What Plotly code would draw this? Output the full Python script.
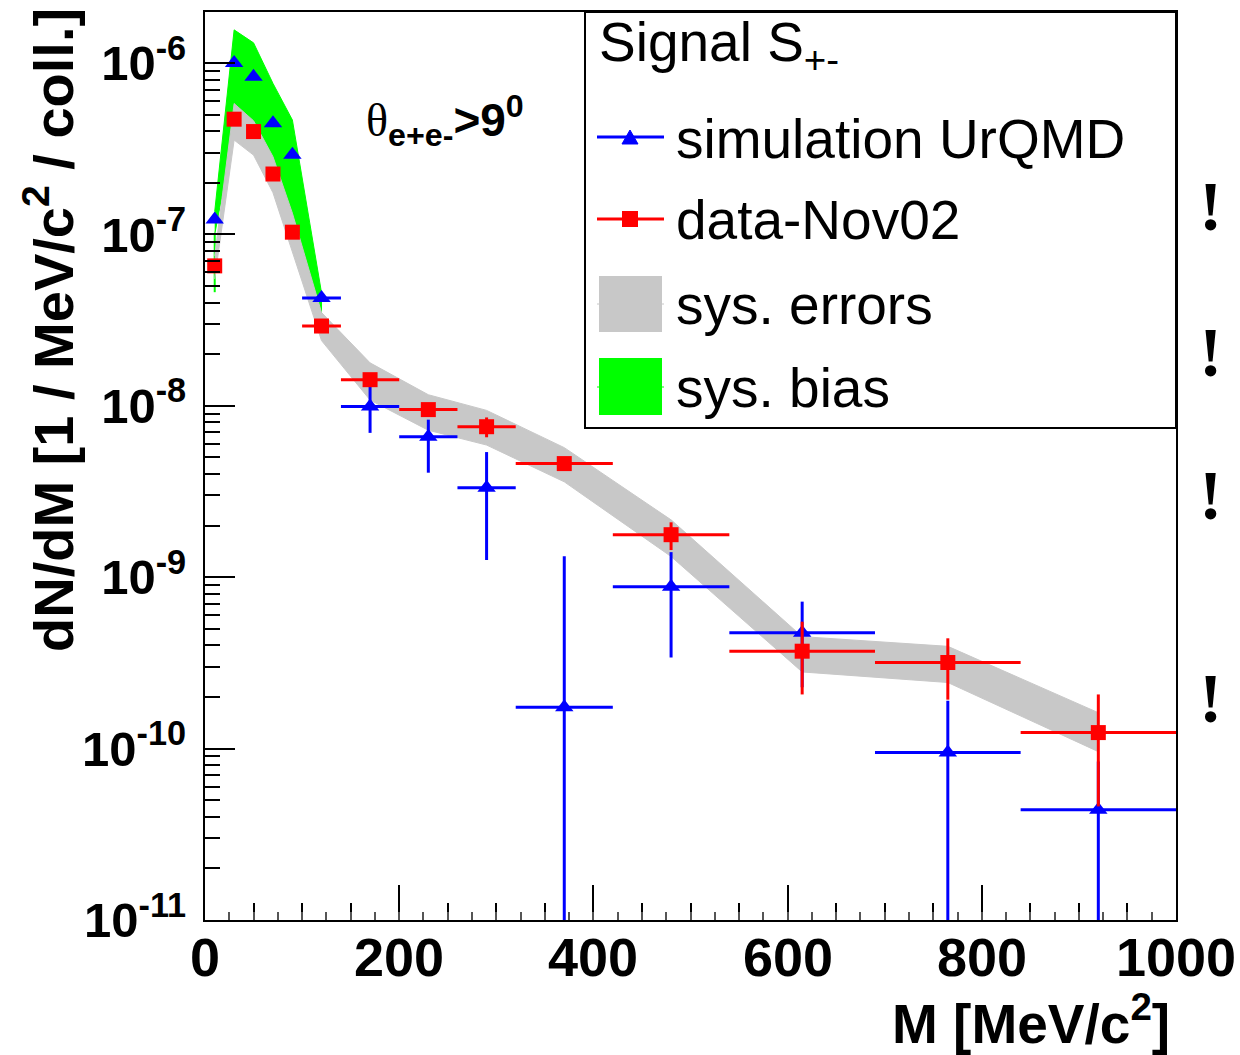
import plotly.graph_objects as go

# ---------------- data ----------------
mass = [10, 30, 50, 70, 90, 120, 170, 230, 290, 370, 480, 615, 765, 920]
mass_halfwidth = [0, 0, 0, 0, 0, 20, 30, 30, 30, 50, 60, 75, 75, 80]

sim_y = [1.22e-7, 1.0e-6, 8.3e-7, 4.45e-7, 2.91e-7, 4.25e-8, 9.9e-9, 6.6e-9,
         3.33e-9, 1.74e-10, 8.8e-10, 4.74e-10, 9.5e-11, 4.4e-11]
sim_err_up = [0, 0, 0, 0, 0, 0, 3.1e-9, 1.7e-9, 2.04e-9, 1.15e-9, 5.2e-10,
              2.46e-10, 9.5e-11, 4.0e-11]
sim_err_down = [0, 0, 0, 0, 0, 0, 2.95e-9, 2.53e-9, 2.07e-9, 1.74e-10, 5.4e-10,
                2.46e-10, 9.5e-11, 4.4e-11]

data_y = [6.55e-8, 4.7e-7, 3.98e-7, 2.25e-7, 1.03e-7, 2.92e-8, 1.42e-8, 9.5e-9,
          7.55e-9, 4.6e-9, 1.77e-9, 3.7e-10, 3.18e-10, 1.24e-10]
data_err_up = [0, 0, 0, 0, 0, 0, 1.0e-9, 7e-10, 1.0e-9, 4e-10, 3.2e-10,
               1.8e-10, 1.22e-10, 8.3e-11]
data_err_down = [0, 0, 0, 0, 0, 0, 1.0e-9, 7e-10, 1.0e-9, 4e-10, 3.3e-10,
                 1.63e-10, 1.25e-10, 7.8e-11]

sys_up = [7.5e-8, 5.8e-7, 4.6e-7, 2.84e-7, 1.33e-7, 3.5e-8, 1.78e-8, 1.16e-8,
          9.4e-9, 5.7e-9, 2.16e-9, 4.5e-10, 3.95e-10, 1.62e-10]
sys_low = [5.5e-8, 3.55e-7, 2.9e-7, 1.75e-7, 7.8e-8, 2.4e-8, 1.08e-8, 7.2e-9,
           5.9e-9, 3.6e-9, 1.32e-9, 2.8e-10, 2.43e-10, 9.6e-11]

bias_mass = [10, 30, 50, 70, 90, 120]
bias_up = [1.36e-7, 1.56e-6, 1.31e-6, 7.6e-7, 4.65e-7, 4.56e-8]
bias_low = [1.0e-7, 4.0e-7, 3.5e-7, 2.2e-7, 1.0e-7, 3.0e-8]
bias_tail_low = 4.6e-8

x_ticks = [0, 200, 400, 600, 800, 1000]
y_exponents = [-11, -10, -9, -8, -7, -6]

legend_header = "Signal S<sub>+-</sub>"
legend_labels = ["simulation UrQMD", "data-Nov02", "sys. errors", "sys. bias"]

# ---------------- layout constants ----------------
W, H = 1240, 1055
L, R, T, B = 205, 64, 12, 135
PW, PH = W - L - R, H - T - B
FONT = "Liberation Sans, Arial, sans-serif"
BLUE, RED, GRAY, GREEN = "#0000ff", "#ff0000", "#c8c8c8", "#00ff00"


def px(x):
    return (x - L) / PW


def py(y):
    return (H - B - y) / PH


fig = go.Figure()

# sys. bias (green band)
fig.add_trace(go.Scatter(
    x=bias_mass + bias_mass[::-1], y=bias_up + bias_low[::-1],
    fill="toself", fillcolor=GREEN, mode="lines",
    line=dict(color=GREEN, width=1), hoverinfo="skip", showlegend=False))
fig.add_trace(go.Scatter(
    x=[bias_mass[0], bias_mass[0]], y=[bias_low[0], bias_tail_low],
    mode="lines", line=dict(color=GREEN, width=2), hoverinfo="skip",
    showlegend=False))

# sys. errors (gray band)
fig.add_trace(go.Scatter(
    x=mass + mass[::-1], y=sys_up + sys_low[::-1],
    fill="toself", fillcolor=GRAY, mode="lines",
    line=dict(color=GRAY, width=1), hoverinfo="skip", showlegend=False))

# simulation UrQMD
fig.add_trace(go.Scatter(
    x=mass, y=sim_y, mode="markers",
    marker=dict(symbol="triangle-up", size=16, color=BLUE),
    error_x=dict(type="data", array=mass_halfwidth, color=BLUE, thickness=3, width=0),
    error_y=dict(type="data", symmetric=False, array=sim_err_up,
                 arrayminus=sim_err_down, color=BLUE, thickness=3, width=0),
    showlegend=False))

# data-Nov02
fig.add_trace(go.Scatter(
    x=mass, y=data_y, mode="markers",
    marker=dict(symbol="square", size=15, color=RED),
    error_x=dict(type="data", array=mass_halfwidth, color=RED, thickness=3, width=0),
    error_y=dict(type="data", symmetric=False, array=data_err_up,
                 arrayminus=data_err_down, color=RED, thickness=3, width=0),
    showlegend=False))

# helper trace for the finest x tick level
fig.add_trace(go.Scatter(x=mass[:1], y=data_y[:1], xaxis="x2", mode="markers",
                         marker=dict(opacity=0), hoverinfo="skip", showlegend=False))

y_minor = [k * 10.0 ** e for e in range(-11, -5) for k in range(2, 10)]

fig.update_layout(
    width=W, height=H, autosize=False,
    margin=dict(l=L, r=R, t=T, b=B, pad=0),
    paper_bgcolor="white", plot_bgcolor="white",
    showlegend=False,
    font=dict(family=FONT, color="black"),
    xaxis=dict(
        range=[0, 1000], tickmode="array", tickvals=x_ticks,
        showticklabels=False, automargin=False,
        ticks="inside", ticklen=35, tickwidth=2, tickcolor="black",
        minor=dict(dtick=50, tick0=0, ticks="inside", ticklen=17,
                   tickwidth=2, tickcolor="black"),
        showline=True, linecolor="black", linewidth=2, mirror=True,
        showgrid=False, zeroline=False),
    xaxis2=dict(
        range=[0, 1000], overlaying="x", anchor="y", side="bottom",
        automargin=False,
        tickmode="linear", tick0=0, dtick=25, ticks="inside", ticklen=8,
        tickwidth=2, tickcolor="#555555", showticklabels=False,
        showline=False, showgrid=False, zeroline=False),
    yaxis=dict(
        type="log", range=[-11, -5.7026], tickmode="array", automargin=False,
        tickvals=[10.0 ** e for e in y_exponents],
        ticktext=["10<sup>%d</sup>" % e for e in y_exponents],
        ticks="inside", ticklen=30, tickwidth=2, tickcolor="black",
        tickfont=dict(size=49, family=FONT, weight="bold"),
        ticklabelstandoff=7,
        minor=dict(tickmode="array", tickvals=y_minor, ticks="inside",
                   ticklen=15, tickwidth=2, tickcolor="black"),
        showline=True, linecolor="black", linewidth=2, mirror=True,
        showgrid=False, zeroline=False),
)

shapes = []
annotations = []

# x tick labels
for v in x_ticks:
    annotations.append(dict(text=str(v), xref="x", yref="paper", x=v, y=py(957),
                            xanchor="center", yanchor="middle", showarrow=False,
                            font=dict(size=54, family=FONT, weight="bold")))

# legend box
shapes.append(dict(type="rect", xref="paper", yref="paper",
                   x0=px(585), x1=px(1176), y0=py(428), y1=py(12),
                   line=dict(color="black", width=2), fillcolor="white",
                   layer="above"))
# simulation entry
shapes.append(dict(type="line", xref="paper", yref="paper",
                   x0=px(597), x1=px(664), y0=py(137), y1=py(137),
                   line=dict(color=BLUE, width=3), layer="above"))
tri = "M %f %f L %f %f L %f %f Z" % (px(622), py(144), px(638), py(144),
                                      px(630), py(130))
shapes.append(dict(type="path", xref="paper", yref="paper", path=tri,
                   fillcolor=BLUE, line=dict(color=BLUE, width=1), layer="above"))
# data entry
shapes.append(dict(type="line", xref="paper", yref="paper",
                   x0=px(597), x1=px(664), y0=py(219), y1=py(219),
                   line=dict(color=RED, width=3), layer="above"))
shapes.append(dict(type="rect", xref="paper", yref="paper",
                   x0=px(622), x1=px(638), y0=py(227), y1=py(211),
                   fillcolor=RED, line=dict(color=RED, width=0), layer="above"))
# sys errors entry
shapes.append(dict(type="line", xref="paper", yref="paper",
                   x0=px(597), x1=px(664), y0=py(304), y1=py(304),
                   line=dict(color=GRAY, width=1), layer="above"))
shapes.append(dict(type="rect", xref="paper", yref="paper",
                   x0=px(599), x1=px(662), y0=py(332), y1=py(276),
                   fillcolor=GRAY, line=dict(width=0), layer="above"))
# sys bias entry
shapes.append(dict(type="line", xref="paper", yref="paper",
                   x0=px(597), x1=px(664), y0=py(387), y1=py(387),
                   line=dict(color=GREEN, width=1), layer="above"))
shapes.append(dict(type="rect", xref="paper", yref="paper",
                   x0=px(599), x1=px(662), y0=py(415), y1=py(358),
                   fillcolor=GREEN, line=dict(width=0), layer="above"))

annotations.append(dict(text=legend_header, xref="paper", yref="paper",
                        x=px(597), y=py(46), xanchor="left", yanchor="middle",
                        showarrow=False, font=dict(size=55, family=FONT)))
for lab, yc in zip(legend_labels, [139, 220, 305, 388]):
    annotations.append(dict(text=lab, xref="paper", yref="paper",
                            x=px(674), y=py(yc), xanchor="left", yanchor="middle",
                            showarrow=False, font=dict(size=55, family=FONT)))

# theta annotation
annotations.append(dict(
    text=("<span style=\"font-family:'Liberation Serif'\">θ</span>"
          "<sub><b>e+e-</b></sub><b>&gt;9<sup>0</sup></b>"),
    xref="paper", yref="paper", x=px(364), y=py(121), xanchor="left",
    yanchor="middle", showarrow=False, font=dict(size=46, family=FONT)))

# axis titles
annotations.append(dict(
    text="<b>dN/dM [1 / MeV/c<sup>2</sup> / coll.]</b>", textangle=-90,
    xref="paper", yref="paper", x=px(50), y=py(330), xanchor="center",
    yanchor="middle", showarrow=False, font=dict(size=56, family=FONT)))
annotations.append(dict(
    text="<b>M [MeV/c<sup>2</sup>]</b>",
    xref="paper", yref="paper", x=px(1172), y=py(1020), xanchor="right",
    yanchor="middle", showarrow=False, font=dict(size=55, family=FONT)))

# exclamation marks at the right
for yc in [207, 352, 495, 698]:
    annotations.append(dict(
        text="<b>!</b>", xref="paper", yref="paper", x=px(1210), y=py(yc),
        xanchor="center", yanchor="middle", showarrow=False,
        font=dict(size=70, family="Liberation Serif, Times New Roman, serif")))

fig.update_layout(shapes=shapes, annotations=annotations)

fig.write_html("out.html")
